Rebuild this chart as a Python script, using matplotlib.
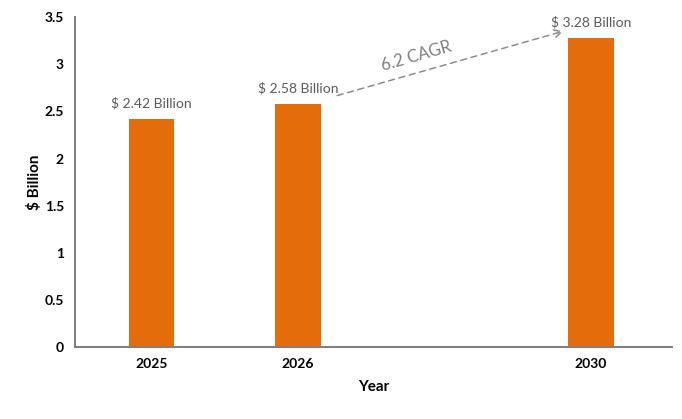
import matplotlib.pyplot as plt

plt.rcParams['font.family'] = ['Lato', 'DejaVu Sans']

# datos
anios = ['2025', '2026', '', '2030']
valores = [2.42, 2.58, None, 3.28]
etiquetas = ['$ 2.42 Billion', '$ 2.58 Billion', '', '$ 3.28 Billion']
cagr_texto = '6.2 CAGR'

fig = plt.figure(figsize=(6.82, 4.19), dpi=100)
ax = fig.add_axes([0.110, 0.172, 0.875, 0.787])

pos = [i for i in range(len(anios)) if valores[i] is not None]
alturas = [valores[i] for i in pos]
ax.bar(pos, alturas, width=0.31, color='#E46C0A', zorder=2)

for i in pos:
    ax.text(i, valores[i] + 0.1, etiquetas[i], ha='center', va='bottom',
            fontsize=10, color='#595959')

# flecha de crecimiento
ax.annotate('', xy=(2.83, 3.36), xytext=(1.25, 2.66),
            arrowprops=dict(arrowstyle='->', color='#8c8c8c', lw=1.1,
                            linestyle=(0, (4, 3)), mutation_scale=14))
ax.text(1.81, 3.09, cagr_texto, rotation=16, ha='center', va='center',
        fontsize=12, color='#7f7f7f')

ax.set_xlim(-0.52, 3.55)
ax.set_ylim(0, 3.5)
ax.set_xticks(pos)
ax.set_xticklabels([anios[i] for i in pos], fontsize=10, fontweight='bold')
ax.set_yticks([0, 0.5, 1, 1.5, 2, 2.5, 3, 3.5])
ax.set_yticklabels(['0', '0.5', '1', '1.5', '2', '2.5', '3', '3.5'],
                   fontsize=10, fontweight='bold')
ax.tick_params(length=0, pad=8)
ax.tick_params(axis='x', pad=8)

for lado in ['top', 'right']:
    ax.spines[lado].set_visible(False)
ax.spines['left'].set_color('#7f7f7f')
ax.spines['bottom'].set_color('#7f7f7f')
ax.spines['left'].set_linewidth(1.5)
ax.spines['bottom'].set_linewidth(1.5)

ax.set_xlabel('Year', fontsize=11, fontweight='bold', labelpad=7)
ax.set_ylabel('$ Billion', fontsize=11, fontweight='bold', labelpad=2)

plt.savefig('out.png', dpi=100)
